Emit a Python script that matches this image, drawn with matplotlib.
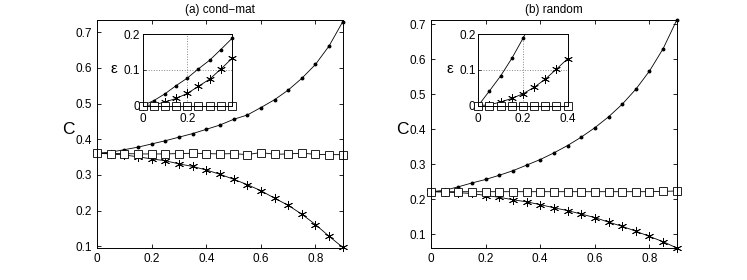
import numpy as np
import matplotlib
matplotlib.use("Agg")
import matplotlib.pyplot as plt

plt.rcParams['font.family'] = ['Liberation Sans', 'DejaVu Sans']

# x axis of main panels and insets
x_main = np.arange(19) * 0.05
x_inset = np.arange(9) * 0.05

# (a) cond-mat
a_dots = [0.361, 0.364, 0.371, 0.378, 0.387, 0.396, 0.406, 0.416, 0.428, 0.440,
          0.456, 0.468, 0.489, 0.511, 0.538, 0.571, 0.610, 0.662, 0.730]
a_stars = [0.361, 0.359, 0.356, 0.351, 0.345, 0.340, 0.331, 0.324, 0.314, 0.302,
           0.288, 0.273, 0.256, 0.235, 0.215, 0.190, 0.161, 0.128, 0.097]
a_squares = [0.361, 0.360, 0.360, 0.359, 0.359, 0.359, 0.360, 0.361, 0.360, 0.359,
             0.360, 0.357, 0.363, 0.358, 0.359, 0.361, 0.358, 0.357, 0.357]
a_eps_dots = [0.0, 0.014, 0.033, 0.056, 0.077, 0.103, 0.127, 0.157, 0.188]
a_eps_stars = [0.0, 0.002, 0.010, 0.020, 0.034, 0.054, 0.074, 0.102, 0.132]
a_eps_squares = [0.0, 0.0, 0.0, 0.0, 0.0, 0.0, 0.0, 0.0, 0.0]

# (b) random
b_dots = [0.221, 0.225, 0.235, 0.246, 0.256, 0.268, 0.281, 0.297, 0.313, 0.332,
          0.353, 0.377, 0.404, 0.435, 0.471, 0.514, 0.566, 0.630, 0.712]
b_stars = [0.221, 0.220, 0.218, 0.216, 0.210, 0.205, 0.198, 0.192, 0.184, 0.175,
           0.167, 0.157, 0.147, 0.134, 0.122, 0.108, 0.093, 0.078, 0.060]
b_squares = [0.221, 0.221, 0.221, 0.221, 0.221, 0.221, 0.221, 0.221, 0.221, 0.221,
             0.221, 0.221, 0.221, 0.221, 0.221, 0.221, 0.221, 0.222, 0.223]
b_eps_dots = [0.0, 0.041, 0.083, 0.132, 0.188, 0.248]
b_eps_stars = [0.0, 0.002, 0.010, 0.020, 0.033, 0.051, 0.074, 0.102, 0.131]
b_eps_squares = [0.0, 0.0, 0.0, 0.0, 0.0, 0.0, 0.0, 0.0, 0.0]

asterisk = (6, 2, 0)


def series(ax, x, y, ylim, **mk):
    x = np.asarray(x[:len(y)])
    y = np.asarray(y)
    ax.plot(x, y, '-', color='k', lw=0.6)
    keep = (y >= ylim[0] - 1e-9) & (y <= ylim[1] + 1e-9)
    ax.plot(x[keep], y[keep], ls='none', color='k', clip_on=False, **mk)


def draw(ax, x, dots, stars, squares, ylim, s=1.0):
    series(ax, x, dots, ylim, marker='o', ms=1.8 * s)
    series(ax, x, stars, ylim, marker=asterisk, ms=6.5 * s, mew=0.6)
    series(ax, x, squares, ylim, marker='s', ms=5.5 * s, mfc='white', mec='k', mew=0.6)


fig = plt.figure(figsize=(7.47, 2.8), dpi=100)

panels = [
    (0.1299, 0.1910, a_dots, a_stars, a_squares, a_eps_dots, a_eps_stars,
     a_eps_squares, (0.0953, 0.7345), '(a) cond\u2212mat', [0, 0.2]),
    (0.577, 0.6403, b_dots, b_stars, b_squares, b_eps_dots, b_eps_stars,
     b_eps_squares, (0.060, 0.712), '(b) random', [0, 0.2, 0.4]),
]

for left, ileft, dots, stars, squares, edots, estars, esq, ylim, title, ixt in panels:
    ax = fig.add_axes([left, 0.1143, 0.329, 0.8143])
    draw(ax, x_main, dots, stars, squares, ylim)
    ax.set_xlim(0, 0.9)
    ax.set_ylim(*ylim)
    ax.set_xticks([0, 0.2, 0.4, 0.6, 0.8])
    ax.set_xticklabels(['0', '0.2', '0.4', '0.6', '0.8'])
    ax.set_yticks([0.1, 0.2, 0.3, 0.4, 0.5, 0.6, 0.7])
    ax.tick_params(direction='in', top=True, right=True, labelsize=8.5, length=3, width=0.6)
    for sp in ax.spines.values():
        sp.set_linewidth(0.7)
    ax.set_title(title, fontsize=8.5, pad=5)
    fig.text(left - 0.039, 1 - 130 / 280, 'C', fontsize=12.5, ha='center', va='center')

    ins = fig.add_axes([ileft, 0.623, 0.1195, 0.255])
    ins.set_zorder(3)
    draw(ins, x_inset, edots, estars, esq, (0, 0.2), s=0.95)
    ins.set_xlim(0, 0.4)
    ins.set_ylim(0, 0.2)
    ins.set_xticks(ixt)
    ins.set_xticklabels(['0', '0.2', '0.4'][:len(ixt)])
    ins.set_yticks([0, 0.1, 0.2])
    ins.set_yticklabels(['0', '0.1', '0.2'])
    ins.grid(True, linestyle=':', color='#888888', lw=0.7)
    ins.tick_params(direction='in', labelsize=8.5, length=2, width=0.5, pad=2)
    ins.tick_params(axis='x', pad=5)
    for sp in ins.spines.values():
        sp.set_linewidth(0.7)
    fig.text(ileft - 0.038, 1 - 69 / 280, '\u03b5', fontsize=11, ha='center', va='center')

fig.savefig('out.png', dpi=100)
